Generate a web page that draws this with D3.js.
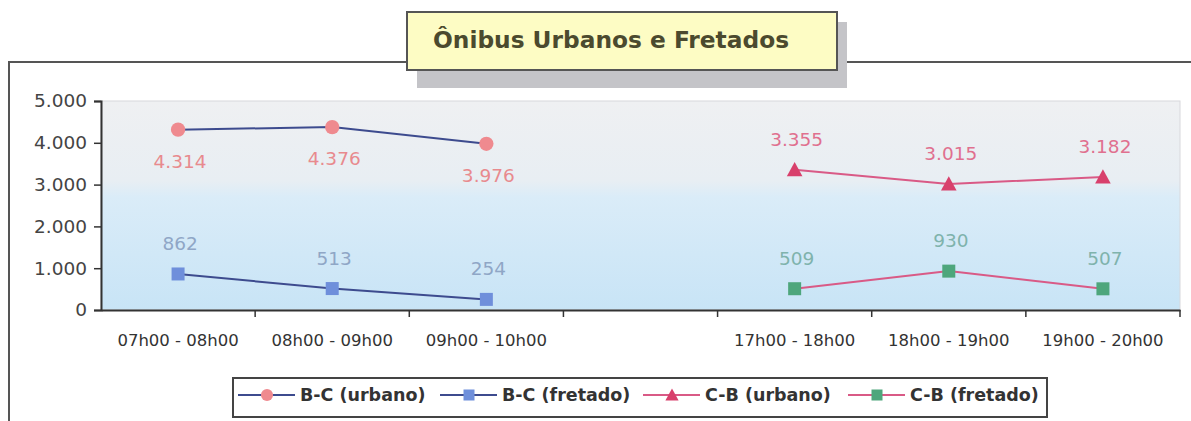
<!DOCTYPE html>
<html>
<head>
<meta charset="utf-8">
<script src="https://cdn.jsdelivr.net/npm/d3@7"></script>
<style>
  body { margin: 0; background: #fff; }
  text { font-family: "DejaVu Sans", Arial, sans-serif; }
</style>
</head>
<body>
<script>
// categories (the empty one is the midday gap in the chart)
var categories = ["07h00 - 08h00", "08h00 - 09h00", "09h00 - 10h00", "",
	"17h00 - 18h00", "18h00 - 19h00", "19h00 - 20h00"];
var yTicks = [0, 1000, 2000, 3000, 4000, 5000];

// series values, null where the series has no point
var bcUrbano  = [4314, 4376, 3976, null, null, null, null];
var bcFretado = [862, 513, 254, null, null, null, null];
var cbUrbano  = [null, null, null, null, 3355, 3015, 3182];
var cbFretado = [null, null, null, null, 509, 930, 507];

var seriesNames = ["B-C (urbano)", "B-C (fretado)", "C-B (urbano)", "C-B (fretado)"];

var width = 1191,
	height = 421;

var series = [
	{ name: seriesNames[0], values: bcUrbano, line: "#3d4b8e", fill: "#ef8a8f", label: "#e88a8e", shape: "circle", above: false },
	{ name: seriesNames[1], values: bcFretado, line: "#3d4b8e", fill: "#6f8fdb", label: "#8fa6c6", shape: "square", above: true },
	{ name: seriesNames[2], values: cbUrbano, line: "#d95a86", fill: "#d8406c", label: "#e0708f", shape: "triangle", above: true },
	{ name: seriesNames[3], values: cbFretado, line: "#d95a86", fill: "#4ea67c", label: "#7fb3ac", shape: "square", above: true }
];

var margin = { top: 101, left: 101, right: 11, bottom: 111 };

var x = d3.scaleBand()
	.domain(categories)
	.range([margin.left, width - margin.right]);

var y = d3.scaleLinear()
	.domain([0, 5000])
	.range([height - margin.bottom, margin.top]);

var fmt = d3.formatLocale({ decimal: ",", thousands: ".", grouping: [3], currency: ["R$", ""] }).format(",d");

var svg = d3.select("body").append("svg")
	.attr("width", width)
	.attr("height", height);

var defs = svg.append("defs");
var grad = defs.append("linearGradient")
	.attr("id", "bg")
	.attr("x1", 0).attr("y1", 0).attr("x2", 0).attr("y2", 1);
grad.append("stop").attr("offset", "0%").attr("stop-color", "#eff0f2");
grad.append("stop").attr("offset", "38%").attr("stop-color", "#e8eef3");
grad.append("stop").attr("offset", "46%").attr("stop-color", "#daecf8");
grad.append("stop").attr("offset", "100%").attr("stop-color", "#c8e4f6");

// outer frame (broken by the title box)
svg.append("path")
	.attr("d", "M9,421 V62 H407 M847,62 H1191")
	.attr("fill", "none")
	.attr("stroke", "#555")
	.attr("stroke-width", 2);

// plot background
svg.append("rect")
	.attr("x", x.range()[0])
	.attr("y", y(5000))
	.attr("width", x.range()[1] - x.range()[0])
	.attr("height", y(0) - y(5000))
	.attr("fill", "url(#bg)")
	.attr("stroke", "#d8d8dc")
	.attr("stroke-width", 1);

// title box with shadow
svg.append("rect")
	.attr("x", 417).attr("y", 22)
	.attr("width", 430).attr("height", 66)
	.attr("fill", "#c4c4c8");
svg.append("rect")
	.attr("x", 407).attr("y", 12)
	.attr("width", 430).attr("height", 58)
	.attr("fill", "#fdfcc4")
	.attr("stroke", "#555")
	.attr("stroke-width", 2);
svg.append("text")
	.attr("x", 433).attr("y", 48)
	.attr("font-size", 23.3)
	.attr("font-weight", "bold")
	.attr("fill", "#4b4a2e")
	.text("Ônibus Urbanos e Fretados");

// axes
var yAxis = svg.append("g")
	.attr("transform", "translate(" + margin.left + ",0)")
	.call(d3.axisLeft(y).tickValues(yTicks).tickFormat(fmt).tickSize(7).tickPadding(7));
yAxis.select(".domain").attr("stroke", "#333").attr("stroke-width", 2);
yAxis.selectAll(".tick line").attr("stroke", "#333").attr("stroke-width", 1.5);
yAxis.selectAll(".tick text").attr("font-size", 18.5).attr("fill", "#444")
	.attr("font-family", "DejaVu Sans, Arial, sans-serif");

var xAxis = svg.append("g")
	.attr("transform", "translate(0," + y(0) + ")")
	.call(d3.axisBottom(x).tickSize(0).tickPadding(24));
xAxis.select(".domain").attr("stroke", "#333").attr("stroke-width", 2);
xAxis.selectAll(".tick text").attr("font-size", 16.5).attr("fill", "#333")
	.attr("font-family", "DejaVu Sans, Arial, sans-serif");

// tick marks between categories
svg.append("g").selectAll("line")
	.data(categories.slice(1).concat(["end"]))
	.enter().append("line")
	.attr("x1", function(d, i) { return x(categories[0]) + (i + 1) * x.bandwidth(); })
	.attr("x2", function(d, i) { return x(categories[0]) + (i + 1) * x.bandwidth(); })
	.attr("y1", y(0))
	.attr("y2", y(0) + 7)
	.attr("stroke", "#333")
	.attr("stroke-width", 1.5);

function cx(i) { return x(categories[i]) + x.bandwidth() / 2; }

var line = d3.line()
	.defined(function(d) { return d != null; })
	.x(function(d, i) { return cx(i); })
	.y(function(d) { return y(d); });

function marker(g, shape, fill, px, py, s) {
	if (shape === "circle") {
		g.append("circle").attr("cx", px).attr("cy", py).attr("r", s * 0.55).attr("fill", fill);
	} else if (shape === "square") {
		g.append("rect").attr("x", px - s / 2).attr("y", py - s / 2)
			.attr("width", s).attr("height", s).attr("fill", fill);
	} else {
		g.append("path")
			.attr("d", "M" + px + "," + (py - s * 0.6) + " L" + (px + s * 0.6) + "," + (py + s * 0.5) +
				" L" + (px - s * 0.6) + "," + (py + s * 0.5) + "Z")
			.attr("fill", fill);
	}
}

series.forEach(function(s) {
	svg.append("path")
		.datum(s.values)
		.attr("d", line)
		.attr("fill", "none")
		.attr("stroke", s.line)
		.attr("stroke-width", 2);

	var g = svg.append("g");
	s.values.forEach(function(v, i) {
		if (v == null) return;
		marker(g, s.shape, s.fill, cx(i), y(v), 13);
		g.append("text")
			.attr("x", cx(i) + 2)
			.attr("y", s.above ? y(v) - 24 : y(v) + 38)
			.attr("text-anchor", "middle")
			.attr("font-size", 18.5)
			.attr("fill", s.label)
			.text(fmt(v));
	});
});

// legend
var legend = svg.append("g");
legend.append("rect")
	.attr("x", 233).attr("y", 378)
	.attr("width", 814).attr("height", 39)
	.attr("fill", "#fff")
	.attr("stroke", "#444")
	.attr("stroke-width", 2);

var legendX = [238, 440, 643, 848];
series.forEach(function(s, i) {
	var lx = legendX[i], ly = 395;
	legend.append("line")
		.attr("x1", lx).attr("x2", lx + 57)
		.attr("y1", ly).attr("y2", ly)
		.attr("stroke", s.line)
		.attr("stroke-width", 2);
	marker(legend, s.shape, s.fill, lx + 29, ly, 11);
	legend.append("text")
		.attr("x", lx + 62)
		.attr("y", 401)
		.attr("font-size", 17.5)
		.attr("font-weight", "bold")
		.attr("fill", "#333")
		.text(s.name);
});
</script>
</body>
</html>
